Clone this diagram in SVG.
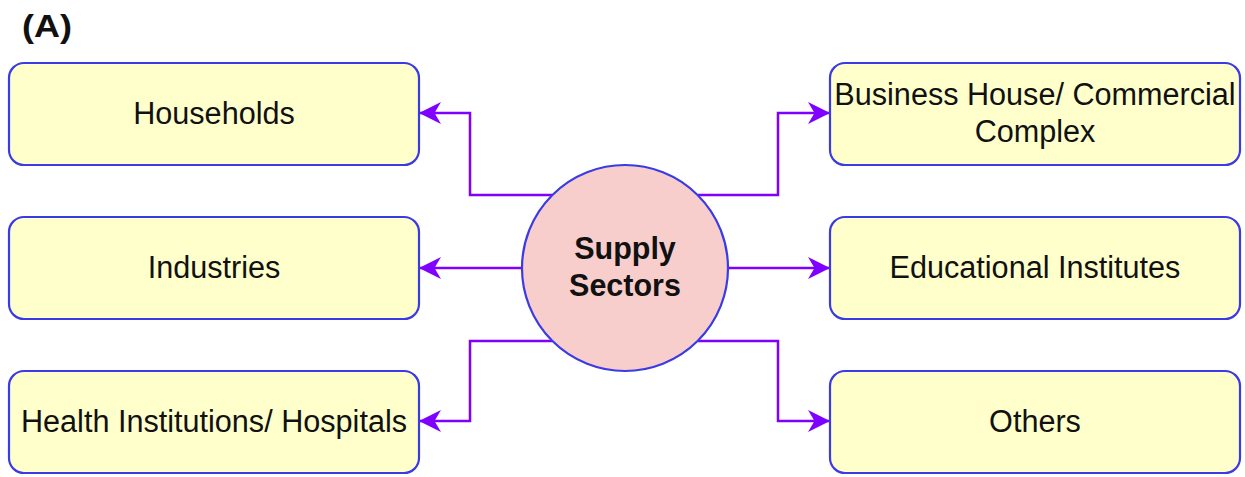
<svg xmlns="http://www.w3.org/2000/svg" width="1245" height="477" viewBox="0 0 1245 477">
  <style>
    .box { fill: #ffffcc; stroke: #3b3be6; stroke-width: 2.2; }
    .hub { fill: #f8cecc; stroke: #3b3be6; stroke-width: 2.2; }
    .lbl { font-family: "Liberation Sans", Arial, sans-serif; font-size: 30.6px; fill: #111; text-anchor: middle; }
    .hubtxt { font-family: "Liberation Sans", Arial, sans-serif; font-size: 30.5px; font-weight: bold; fill: #111; text-anchor: middle; }
    .edge { fill: none; stroke: #7f00ff; stroke-width: 2.5; marker-end: url(#arrow); }
  </style>
  <defs>
    <marker id="arrow" viewBox="0 0 22 22" refX="21" refY="11" markerWidth="22" markerHeight="22" markerUnits="userSpaceOnUse" orient="auto">
      <path d="M0,0 L22,11 L0,22 L6.5,11 Z" fill="#7f00ff"/>
    </marker>
  </defs>

  <rect width="1245" height="477" fill="#ffffff"/>

  <text x="22" y="37" font-family="Liberation Sans, Arial, sans-serif" font-size="31" font-weight="bold" fill="#111" textLength="50" lengthAdjust="spacingAndGlyphs">(A)</text>

  <!-- connectors from the hub to each sector -->
  <g id="connectors">
    <path class="edge" d="M552,195 H470 V113 H420"/>
    <path class="edge" d="M522,268 H420"/>
    <path class="edge" d="M552,341 H470 V421 H420"/>
    <path class="edge" d="M698,195 H778 V113 H829"/>
    <path class="edge" d="M728,268 H829"/>
    <path class="edge" d="M698,341 H778 V421 H829"/>
  </g>

  <g id="hub">
    <circle class="hub" cx="625" cy="268" r="103"/>
    <text class="hubtxt" x="625" y="259">Supply</text>
    <text class="hubtxt" x="625" y="296">Sectors</text>
  </g>

  <g id="households">
    <rect class="box" x="9" y="63" width="410" height="102" rx="15"/>
    <text class="lbl" x="214" y="124">Households</text>
  </g>

  <g id="industries">
    <rect class="box" x="9" y="217" width="410" height="102" rx="15"/>
    <text class="lbl" x="214" y="278">Industries</text>
  </g>

  <g id="health">
    <rect class="box" x="9" y="371" width="410" height="102" rx="15"/>
    <text class="lbl" x="214" y="432">Health Institutions/ Hospitals</text>
  </g>

  <g id="business">
    <rect class="box" x="830" y="63" width="410" height="102" rx="15"/>
    <text class="lbl" x="1035" y="105">Business House/ Commercial</text>
    <text class="lbl" x="1035" y="142">Complex</text>
  </g>

  <g id="education">
    <rect class="box" x="830" y="217" width="410" height="102" rx="15"/>
    <text class="lbl" x="1035" y="278">Educational Institutes</text>
  </g>

  <g id="others">
    <rect class="box" x="830" y="371" width="410" height="102" rx="15"/>
    <text class="lbl" x="1035" y="432">Others</text>
  </g>
</svg>
